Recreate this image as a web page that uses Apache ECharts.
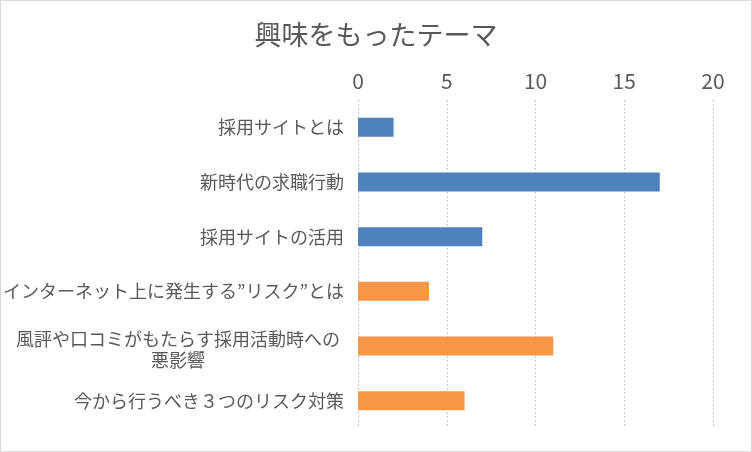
<!DOCTYPE html>
<html>
<head>
<meta charset="utf-8">
<script src="https://cdn.jsdelivr.net/npm/echarts@6/dist/echarts.min.js"></script>
<style>
html,body{margin:0;padding:0;background:#fff;}
#chart{width:752px;height:452px;}
</style>
</head>
<body>
<div id="chart"></div>
<script>
const titleText = '興味をもったテーマ';
const categories = [
  '採用サイトとは',
  '新時代の求職行動',
  '採用サイトの活用',
  'インターネット上に発生する”リスク”とは',
  '風評や口コミがもたらす採用活動時への\n悪影響',
  '今から行うべき３つのリスク対策'
];
const valuesBlue = [2, 17, 7, '-', '-', '-'];
const valuesOrange = ['-', '-', '-', 4, 11, 6];
const xTicks = { min: 0, max: 20, interval: 5 };

const FONT = '"Noto Sans CJK JP", "Noto Sans", sans-serif';
const chart = echarts.init(document.getElementById('chart'), null, { renderer: 'canvas' });
chart.setOption({
  backgroundColor: '#fff',
  animation: false,
  title: {
    text: titleText,
    left: 'center',
    top: 16,
    textStyle: { color: '#595959', fontSize: 27, fontWeight: 'normal', fontFamily: FONT }
  },
  graphic: [{
    type: 'rect',
    shape: { x: 0.5, y: 0.5, width: 751, height: 451 },
    style: { fill: 'none', stroke: '#d9d9d9', lineWidth: 1 },
    silent: true
  }],
  grid: { left: 357, right: 39, top: 100, bottom: 24 },
  xAxis: {
    type: 'value',
    position: 'top',
    min: xTicks.min, max: xTicks.max, interval: xTicks.interval,
    axisLine: { show: false },
    axisTick: { show: false },
    axisLabel: { color: '#595959', fontSize: 21, fontFamily: FONT, margin: 8 },
    splitLine: { show: true, lineStyle: { color: '#c8c8c8', type: [2, 2], width: 1 } }
  },
  yAxis: {
    type: 'category',
    inverse: true,
    data: categories.map(c => c.indexOf('\n') >= 0
      ? { value: c, textStyle: { padding: [8, 0, 0, 0] } }
      : c),
    axisLine: { show: false },
    axisTick: { show: false },
    axisLabel: {
      color: '#595959', fontSize: 18, fontFamily: FONT, margin: 14, lineHeight: 21,
      formatter: function (v) {
        if (v.indexOf('\n') >= 0) {
          return v.split('\n').map(s => '{c|' + s + '}').join('\n');
        }
        return v;
      },
      rich: {
        c: { width: 332, align: 'center', color: '#595959', fontSize: 18, fontFamily: FONT, lineHeight: 21 }
      }
    }
  },
  series: [
    { type: 'bar', data: valuesBlue, barWidth: 19, barGap: '-100%', itemStyle: { color: '#4F81BD' } },
    { type: 'bar', data: valuesOrange, barWidth: 19, barGap: '-100%', itemStyle: { color: '#F79646' } }
  ]
});
</script>
</body>
</html>
